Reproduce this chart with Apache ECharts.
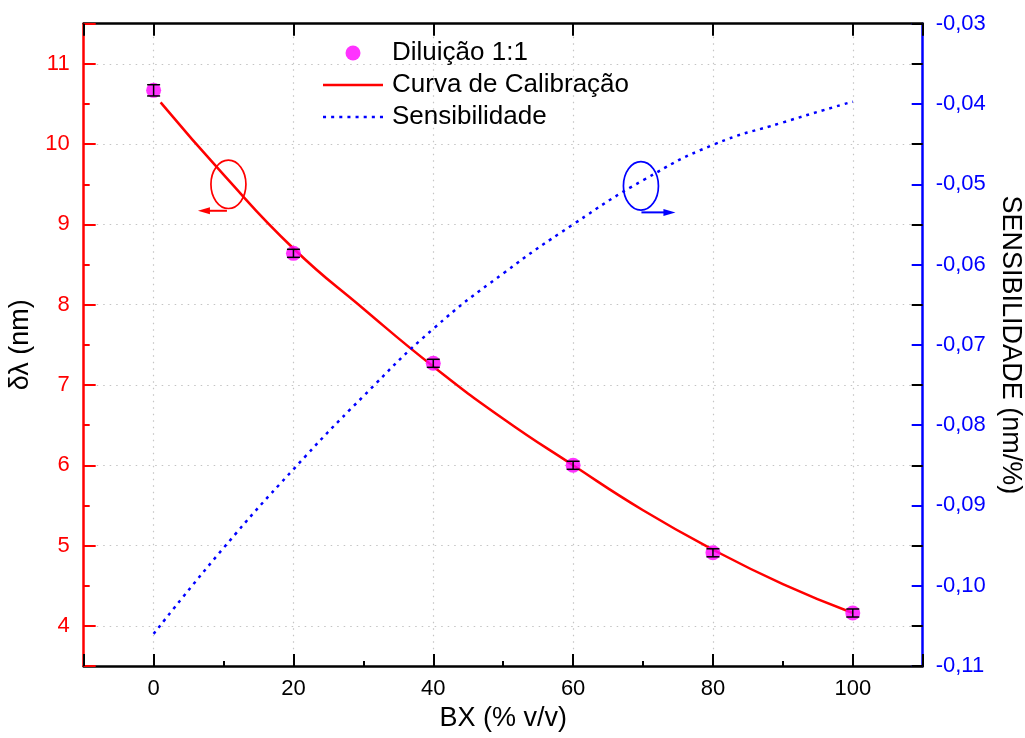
<!DOCTYPE html>
<html><head><meta charset="utf-8">
<script src="https://cdn.jsdelivr.net/npm/echarts@6/dist/echarts.min.js"></script>
<style>html,body{margin:0;padding:0;background:#fff}#c{width:1025px;height:738px}</style>
</head><body><div id="c"></div>
<script>
// ---- data ----
const ptX = [0, 20, 40, 60, 80, 100];
const ptY = [10.67, 8.64, 7.27, 6.00, 4.91, 4.16];
const ptErr = [0.07, 0.05, 0.05, 0.05, 0.05, 0.05];
const fitX = [1, 10, 20, 30, 40, 50, 60, 70, 80, 90, 100];
const fitY = [10.52, 9.62, 8.70, 7.95, 7.23, 6.58, 6.00, 5.44, 4.95, 4.52, 4.16];
const sensX = [0, 10, 20, 30, 40, 50, 60, 70, 80, 90, 100];
const sensY = [-0.1060, -0.0953, -0.0855, -0.0764, -0.0680, -0.0611, -0.0550, -0.0495, -0.0451, -0.0423, -0.0397];
const xTickLabels = [0, 20, 40, 60, 80, 100];
const leftTickLabels = [4, 5, 6, 7, 8, 9, 10, 11];
const names = ['Diluição 1:1', 'Curva de Calibração', 'Sensibilidade'];

const FF = '"Liberation Sans", Arial, Helvetica, sans-serif';
const RED = '#ff0000', BLUE = '#0000ff', MAG = '#ff00ff';
const gridLine = {show: true, showMinLine: false, showMaxLine: false, lineStyle: {type: [1.5, 5], color: '#c4c4c4', width: 1.2}};

// legend icons (pure decoration)
const solidIcon = 'path://M0,0H60V2.5H0Z';
let dotIcon = 'path://';
for (let s = 0; s < 60; s += 8) dotIcon += 'M' + s + ',0h3v2.5h-3Z';

const chart = echarts.init(document.getElementById('c'), null, {renderer: 'canvas'});
const option = {
  animation: false,
  backgroundColor: '#fff',
  grid: {left: 83.7, right: 102.3, top: 23.7, bottom: 72, containLabel: false, outerBoundsMode: 'none'},
  legend: {
    orient: 'vertical', left: 318, top: 32, padding: 5,
    itemWidth: 60, itemHeight: 15, itemGap: 0,
    textStyle: {fontFamily: FF, fontSize: 26, color: '#000', lineHeight: 32, padding: [0, 0, 0, 4]},
    data: [
      {name: names[0], icon: 'circle'},
      {name: names[1], icon: solidIcon},
      {name: names[2], icon: dotIcon}
    ]
  },
  xAxis: [
    {type: 'value', position: 'bottom', min: -10, max: 110, splitNumber: 6,
     axisLine: {onZero: false, lineStyle: {color: '#000', width: 2.5}},
     axisTick: {inside: true, length: 12, lineStyle: {color: '#000', width: 2}},
     axisLabel: {formatter: v => xTickLabels.includes(v) ? String(v) : '', color: '#000', fontSize: 22, fontFamily: FF, margin: 12},
     splitLine: gridLine,
     name: 'BX (% v/v)', nameLocation: 'middle', nameGap: 39,
     nameTextStyle: {fontFamily: FF, fontSize: 27, color: '#000'}},
    {type: 'value', position: 'bottom', min: -10, max: 110, interval: 10,
     axisLine: {show: false, onZero: false}, axisTick: {inside: true, length: 5, lineStyle: {color: '#000', width: 2}},
     axisLabel: {show: false}, splitLine: {show: false}},
    {type: 'value', position: 'top', min: -10, max: 110, splitNumber: 6,
     axisLine: {onZero: false, lineStyle: {color: '#000', width: 2.5}},
     axisTick: {inside: true, length: 12, lineStyle: {color: '#000', width: 2}},
     axisLabel: {show: false}, splitLine: {show: false}}
  ],
  yAxis: [
    {type: 'value', position: 'left', min: 3.5, max: 11.5, splitNumber: 8,
     axisLine: {onZero: false, lineStyle: {color: RED, width: 2.5}},
     axisTick: {inside: true, length: 12, lineStyle: {color: RED, width: 2}},
     axisLabel: {formatter: v => leftTickLabels.includes(v) ? String(v) : '', color: RED, fontSize: 22, fontFamily: FF, margin: 14},
     splitLine: gridLine,
     name: 'δλ (nm)', nameLocation: 'middle', nameGap: 42, nameRotate: 90,
     nameTextStyle: {fontFamily: FF, fontSize: 27, color: '#000'}},
    {type: 'value', position: 'right', min: -0.11, max: -0.03, interval: 0.01,
     axisLine: {onZero: false, lineStyle: {color: BLUE, width: 2.5}},
     axisTick: {inside: true, length: 11, lineStyle: {color: BLUE, width: 2}},
     axisLabel: {formatter: v => v.toFixed(2).replace('.', ','), color: BLUE, fontSize: 22, fontFamily: FF, margin: 13},
     splitLine: {show: false},
     name: 'SENSIBILIDADE (nm/%)', nameLocation: 'middle', nameGap: 74, nameRotate: -90,
     nameTextStyle: {fontFamily: FF, fontSize: 27, color: '#000'}},
    {type: 'value', position: 'left', min: 3.5, max: 11.5, interval: 0.5,
     axisLine: {show: false, onZero: false}, axisTick: {inside: true, length: 6, lineStyle: {color: RED, width: 2}},
     axisLabel: {show: false}, splitLine: {show: false}},
    {type: 'value', position: 'right', min: 3.5, max: 11.5, splitNumber: 8,
     axisLine: {show: false, onZero: false}, axisTick: {inside: true, length: 11, lineStyle: {color: '#000', width: 2}},
     axisLabel: {show: false}, splitLine: {show: false}}
  ],
  series: [
    {name: names[0], type: 'scatter', xAxisIndex: 0, yAxisIndex: 0, symbol: 'circle', symbolSize: 15,
     itemStyle: {color: MAG}, z: 4, data: ptX.map((x, i) => [x, ptY[i]])},
    {name: names[1], type: 'line', xAxisIndex: 0, yAxisIndex: 0, smooth: true, symbol: 'none', showSymbol: false,
     lineStyle: {color: RED, width: 2.5}, itemStyle: {color: RED}, z: 3,
     data: fitX.map((x, i) => [x, fitY[i]])},
    {name: names[2], type: 'line', xAxisIndex: 0, yAxisIndex: 1, smooth: true, symbol: 'none', showSymbol: false,
     lineStyle: {color: BLUE, width: 2.5, type: [3, 5]}, itemStyle: {color: BLUE}, z: 3,
     data: sensX.map((x, i) => [x, sensY[i]])},
    {name: 'err', type: 'custom', xAxisIndex: 0, yAxisIndex: 0, z: 5,
     data: ptX.map((x, i) => [x, ptY[i] - ptErr[i], ptY[i] + ptErr[i]]),
     renderItem: (params, api) => {
       const lo = api.coord([api.value(0), api.value(1)]);
       const hi = api.coord([api.value(0), api.value(2)]);
       const w = 6.5, st = {stroke: '#000', lineWidth: 1.5};
       return {type: 'group', children: [
         {type: 'line', shape: {x1: lo[0], y1: lo[1], x2: hi[0], y2: hi[1]}, style: st},
         {type: 'line', shape: {x1: lo[0] - w, y1: lo[1], x2: lo[0] + w, y2: lo[1]}, style: st},
         {type: 'line', shape: {x1: hi[0] - w, y1: hi[1], x2: hi[0] + w, y2: hi[1]}, style: st}
       ]};
     }}
  ]
};
chart.setOption(option);

// ---- annotation ellipses with arrows, anchored in data space ----
function annot(c, color, dir) {
  const cx = c[0], cy = c[1];
  const ay = cy + 26.5;
  const xs = dir < 0 ? cx - 1.5 : cx + 0.5;
  const xe = dir < 0 ? cx - 30.5 : cx + 34.5;
  return [
    {type: 'ellipse', shape: {cx: cx, cy: cy, rx: 17.5, ry: 24.2}, style: {fill: 'none', stroke: color, lineWidth: 1.7}, z: 10},
    {type: 'line', shape: {x1: xs, y1: ay, x2: xe - dir * 8, y2: ay}, style: {stroke: color, lineWidth: 2}, z: 10},
    {type: 'polygon', shape: {points: [[xe, ay], [xe - dir * 12, ay - 3.5], [xe - dir * 12, ay + 3.5]]}, style: {fill: color}, z: 10}
  ];
}
const redC = chart.convertToPixel({xAxisIndex: 0, yAxisIndex: 0}, [10.7, 9.50]);
const blueC = chart.convertToPixel({xAxisIndex: 0, yAxisIndex: 1}, [69.7, -0.0502]);
chart.setOption({graphic: {elements: annot(redC, RED, -1).concat(annot(blueC, BLUE, 1))}});
</script></body></html>
